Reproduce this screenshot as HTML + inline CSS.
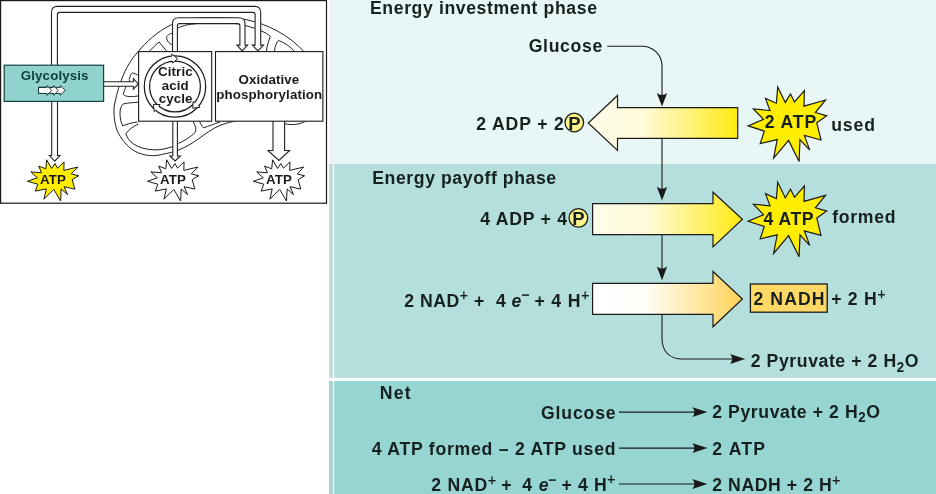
<!DOCTYPE html>
<html><head><meta charset="utf-8"><title>Glycolysis energy phases</title>
<style>
html,body{margin:0;padding:0;background:#fff;}
body{width:936px;height:494px;overflow:hidden;font-family:"Liberation Sans",sans-serif;}
svg{display:block;will-change:transform;}
text{font-family:"Liberation Sans",sans-serif;font-weight:bold;fill:#16201f;}
.t{font-size:19.2px;}
.s{font-size:15px;font-weight:normal;stroke:#16201f;stroke-width:0.35px;}
.sb{font-size:14.5px;}
.m{font-size:13.3px;fill:#1a1a1a;letter-spacing:0.12px;}
.ln{fill:none;stroke:#1a1a1a;stroke-width:1.1;}
.pipe{fill:#fff;stroke:#222;stroke-width:1.1;stroke-linejoin:miter;}
.mito{fill:none;stroke:#222;stroke-width:1;}
</style></head><body>
<svg width="936" height="494" viewBox="0 0 936 494">
<defs>
</defs>

<rect x="330" y="0" width="3" height="164" fill="#eef0f4"/>
<rect x="333" y="0" width="1.2" height="164" fill="#f3fbfb"/>
<rect x="334" y="0" width="602" height="164" fill="#e9f6f6"/>
<rect x="329" y="164" width="4" height="213.8" fill="#c2dcda"/>
<rect x="332.8" y="164" width="1.4" height="213.8" fill="#f2fbfb"/>
<rect x="334.2" y="164" width="601.8" height="213.8" fill="#b4dfdd"/>
<rect x="329" y="381" width="4" height="113" fill="#a6d3d0"/>
<rect x="332.8" y="381" width="1.4" height="113" fill="#eafafa"/>
<rect x="334.2" y="381" width="601.8" height="113" fill="#96d5d1"/>
<rect x="0.6" y="0.6" width="325.9" height="202.6" fill="#fff" stroke="#1a1a1a" stroke-width="1.2"/>
<path class="mito" d="M138.2,51.6 C146,42 158,31 171.4,24.7 C182,20 194,17.8 206,17.6 C222,17.4 236,18 246,19.6 C268,24 290,36 303.3,51 L318,70 C322,85 321,105 310,118 C304,123.5 296,125 290,124.5 C283,124 277,121.5 270,119.5 C258,117 243,118 233,121.5 C228,122.8 224,124 220,125.3 C212,129 205,134 198.4,138.9 C192,143.5 186,147 179,149.9 C174,152 169,153 164.8,153.8 C160,155 156,155.7 151.8,155.7 C147,155.5 143,154.6 138.9,153.1 C133,150.5 129,147.6 126,144 C121.5,139 118.5,134 116.8,129.8 C115,124 114,118 114,113 C113.8,108 114.3,104 115.6,100 C117,93 119,86 121.4,80 C123.5,74 126,69 129.2,63.6 C132,59 135,55 138.2,51.6 Z"/>
<path class="mito" d="M129.2,79.7 C130,76 131,73.5 132.4,72.9 C134,73 136,74 138.5,75.5 M129.8,80 C126,86 124,91 123.3,94.3 C125,97 132,97 138.5,95.9 M149.4,51 L159,41.9 L166.5,51 M171.9,33.3 C168,34.5 166.5,36 166.5,37.6 C167,41 169,43.5 171.9,44.6 M177.8,28 C182,26 187,24.8 191.2,24.2 C215,21 235,22.5 246,25.7 C258,29 266,32.5 270.4,36.3 C268.5,41 267,46 266.4,51 M274.5,51 C275,46 276.5,42.5 278.5,40.4 C285,43 290,46.5 294.2,51"/>
<path class="mito" d="M138.2,102.3 C132,102.6 127,103 123.3,103.9 C121,106 120,109 120,113 C120,118 121,122.5 122.7,125.9 C127,124 132,122.7 137.6,122 M138.2,124 C133,126.5 128.5,130 125.9,133.7 C127,138 130,141.5 133.7,144 C139,147.6 146,149.6 154.4,149.9 C161,149.9 167,148.5 172.5,146.6 M178.4,143.4 C183,141.5 187,139 190.7,136.3 C194,134 196,132 195.9,129.1 C195.8,126.5 194.5,124.5 193.3,122 M199.7,121.5 C200.5,124 202,126.3 203.6,127.8 C209,126 214,124 220,122"/>
<path class="pipe" d="M51.5,66 L51.5,12.5 Q51.5,6.4 57.5,6.4 L254.7,6.4 Q260.7,6.4 260.7,12.4 L260.7,45.1 L263.5,45.1 L257.9,50.9 L252.4,45.1 L255.1,45.1 L255.1,14.5 Q255.1,12.4 253,12.4 L59.5,12.4 Q57.4,12.4 57.4,14.5 L57.4,66"/>
<path class="pipe" d="M172.5,52 L172.5,23.8 Q172.5,17.8 178.5,17.8 L239,17.8 Q245,17.8 245,23.8 L245,45.1 L247.6,45.1 L242.2,50.9 L236.9,45.1 L239.9,45.1 L239.9,25.6 Q239.9,23.6 237.9,23.6 L179.4,23.6 Q177.4,23.6 177.4,25.6 L177.4,52"/>
<path class="pipe" d="M51.7,101 L51.7,155.5 L49.4,155.5 L54.7,161.2 L60,155.5 L57.5,155.5 L57.5,101"/>
<path class="pipe" d="M172.8,121 L172.8,156 L169.8,156 L175.1,160.9 L180.4,156 L177.4,156 L177.4,121"/>
<path class="pipe" d="M273,121 L273,150.5 L268,150.5 L278.9,160.5 L289.6,150.5 L284.6,150.5 L284.6,121"/>
<path class="pipe" d="M103.5,81.7 L133.4,81.7 L133.4,78.7 L138.3,83.9 L133.4,89.1 L133.4,86.2 L103.5,86.2"/>
<rect x="4.2" y="65.2" width="99.4" height="36.2" fill="#8fd2ce" stroke="#14403f" stroke-width="1.2"/>
<rect x="138.6" y="51.6" width="73.1" height="69.6" fill="#fff" stroke="#1a1a1a" stroke-width="1.1"/>
<rect x="215.5" y="51.6" width="107.4" height="69.6" fill="#fff" stroke="#1a1a1a" stroke-width="1.1"/>
<text class="m" x="54.7" y="80.4" text-anchor="middle" style="fill:#103c3b">Glycolysis</text>
<g fill="#fff" stroke="#0f3332" stroke-width="1" stroke-linejoin="miter"><path d="M38.5,87.4 L60.3,87.4 L60.3,85.6 L65.2,90.4 L60.3,95.3 L60.3,93.4 L38.5,93.4 Z"/><path d="M38.5,87.4 L53.7,87.4 L53.7,85.6 L58.2,90.4 L53.7,95.3 L53.7,93.4 L38.5,93.4 Z"/><path d="M38.5,87.4 L47.1,87.4 L47.1,85.6 L51.7,90.4 L47.1,95.3 L47.1,93.4 L38.5,93.4 Z"/></g>
<circle cx="175.0" cy="86.5" r="30.7" class="ln" style="stroke-width:1.2"/>
<circle cx="175.0" cy="86.5" r="25.4" class="ln" style="stroke-width:1.2"/>
<path d="M171.8,54.1 L177.6,58.6 L172.7,63.1" fill="#fff" stroke="#1a1a1a" stroke-width="1" stroke-linejoin="miter"/><path d="M171.8,54.1 L172.0,55.9 M172.7,63.1 L172.5,61.2" class="ln" style="stroke-width:1"/><path d="M200.1,107.3 L192.8,108.2 L193.1,101.5" fill="#fff" stroke="#1a1a1a" stroke-width="1" stroke-linejoin="miter"/><path d="M200.1,107.3 L198.6,106.1 M193.1,101.5 L194.5,102.7" class="ln" style="stroke-width:1"/><path d="M154.3,111.7 L153.4,104.3 L160.1,104.6" fill="#fff" stroke="#1a1a1a" stroke-width="1" stroke-linejoin="miter"/><path d="M154.3,111.7 L155.5,110.2 M160.1,104.6 L158.8,106.1" class="ln" style="stroke-width:1"/>
<text class="m" x="175.4" y="75.7" text-anchor="middle">Citric</text>
<text class="m" x="175.2" y="89.6" text-anchor="middle">acid</text>
<text class="m" x="175.6" y="102.6" text-anchor="middle">cycle</text>
<text class="m" x="268.9" y="83.6" text-anchor="middle">Oxidative</text>
<text class="m" x="269.3" y="98.7" text-anchor="middle">phosphorylation</text>
<polygon points="46.7,159.8 51.6,168.4 55.0,163.6 57.6,168.1 64.1,161.9 63.8,170.4 77.9,167.0 71.3,173.9 78.7,175.8 72.2,179.6 74.9,189.1 64.1,186.7 67.6,194.7 61.2,188.9 60.6,201.0 53.8,189.4 44.0,199.2 46.3,188.9 35.2,191.1 37.9,184.2 27.4,181.3 37.4,177.8 30.8,171.9 41.6,172.8 38.7,166.1 45.8,168.8" fill="#ffee00" stroke="#1a1a1a" stroke-width="1"/>
<text class="m" x="53.0" y="183.5" text-anchor="middle">ATP</text>
<polygon points="166.7,159.8 171.6,168.4 175.0,163.6 177.6,168.1 184.1,161.9 183.8,170.4 197.9,167.0 191.3,173.9 198.7,175.8 192.2,179.6 194.9,189.1 184.1,186.7 187.6,194.7 181.2,188.9 180.6,201.0 173.8,189.4 164.0,199.2 166.3,188.9 155.2,191.1 157.9,184.2 147.4,181.3 157.4,177.8 150.8,171.9 161.6,172.8 158.7,166.1 165.8,168.8" fill="#fff" stroke="#1a1a1a" stroke-width="1"/>
<text class="m" x="173.0" y="183.5" text-anchor="middle">ATP</text>
<polygon points="272.6,159.8 277.5,168.4 280.9,163.6 283.5,168.1 290.0,161.9 289.7,170.4 303.8,167.0 297.2,173.9 304.6,175.8 298.1,179.6 300.8,189.1 290.0,186.7 293.5,194.7 287.1,188.9 286.5,201.0 279.7,189.4 269.9,199.2 272.2,188.9 261.1,191.1 263.8,184.2 253.3,181.3 263.3,177.8 256.7,171.9 267.5,172.8 264.6,166.1 271.7,168.8" fill="#fff" stroke="#1a1a1a" stroke-width="1"/>
<text class="m" x="278.9" y="183.5" text-anchor="middle">ATP</text>
<path class="ln" d="M607.2,46.2 L642,46.2 C653,46.2 662,55 662,66 L662,98 M662,138.4 L662,190 M662,234.7 L662,270 M662,314.4 L662,338 C662,351 669,359 683,359 L735,359"/>
<path d="M662,106.6 L656.8,93.0 Q662,97.1 667.2,93.0 Z" fill="#1a1a1a"/>
<path d="M662,200.4 L656.8,186.8 Q662,190.9 667.2,186.8 Z" fill="#1a1a1a"/>
<path d="M662,280.2 L656.8,266.59999999999997 Q662,270.7 667.2,266.59999999999997 Z" fill="#1a1a1a"/>
<path d="M745.2,359 L730.2,354.1 Q734.2,359 730.2,363.9 Z" fill="#1a1a1a"/>
<linearGradient id="gyl" gradientUnits="userSpaceOnUse" x1="588" x2="738" y1="0" y2="0"><stop offset="0" stop-color="#fffde9"/><stop offset="0.36" stop-color="#fffbdc"/><stop offset="0.68" stop-color="#fff27a"/><stop offset="1" stop-color="#ffeb10"/></linearGradient>
<path d="M737.7,107.6 L617.5,107.6 L617.5,95.5 L588.3,123 L617.5,150.4 L617.5,138.4 L737.7,138.4 Z" fill="url(#gyl)" stroke="#1a1a1a" stroke-width="1.2"/>
<linearGradient id="gyr" gradientUnits="userSpaceOnUse" x1="592" x2="742" y1="0" y2="0"><stop offset="0" stop-color="#fffde9"/><stop offset="0.36" stop-color="#fffbdc"/><stop offset="0.68" stop-color="#fff27a"/><stop offset="1" stop-color="#ffeb10"/></linearGradient>
<path d="M592.6,203.6 L713,203.6 L713,192.2 L742.4,219.3 L713,246.9 L713,234.7 L592.6,234.7 Z" fill="url(#gyr)" stroke="#1a1a1a" stroke-width="1.2"/>
<linearGradient id="gor" gradientUnits="userSpaceOnUse" x1="592" x2="742" y1="0" y2="0"><stop offset="0" stop-color="#ffffff"/><stop offset="0.36" stop-color="#fffdf8"/><stop offset="0.68" stop-color="#ffe9a6"/><stop offset="1" stop-color="#ffd258"/></linearGradient>
<path d="M592.6,283.3 L713,283.3 L713,271.5 L742.4,299 L713,326.8 L713,314.4 L592.6,314.4 Z" fill="url(#gor)" stroke="#1a1a1a" stroke-width="1.2"/>
<polygon points="777.7,87.0 785.3,102.4 790.5,93.9 794.5,102.0 804.4,90.7 804.0,106.1 825.5,100.0 815.4,112.5 826.7,115.8 816.8,122.8 821.0,140.0 804.4,135.5 809.7,150.1 800.0,139.6 799.1,161.4 788.6,140.4 773.6,158.2 777.2,139.6 760.2,143.6 764.3,131.1 748.2,125.9 763.5,119.4 753.4,108.9 770.0,110.5 765.5,98.4 776.4,103.2" fill="#ffee00" stroke="#1a1a1a" stroke-width="1.2"/>
<polygon points="777.7,182.3 785.3,197.7 790.5,189.2 794.5,197.3 804.4,186.0 804.0,201.4 825.5,195.3 815.4,207.8 826.7,211.1 816.8,218.1 821.0,235.3 804.4,230.8 809.7,245.4 800.0,234.9 799.1,256.7 788.6,235.7 773.6,253.5 777.2,234.9 760.2,238.9 764.3,226.4 748.2,221.2 763.5,214.7 753.4,204.2 770.0,205.8 765.5,193.7 776.4,198.5" fill="#ffee00" stroke="#1a1a1a" stroke-width="1.2"/>
<circle cx="574.3" cy="122.5" r="9.3" fill="#fff48c" stroke="#1a1a1a" stroke-width="1.3"/>
<text x="574.3" y="129.5" text-anchor="middle" style="font-size:18.5px">P</text>
<circle cx="578.4" cy="217.9" r="9.3" fill="#fff48c" stroke="#1a1a1a" stroke-width="1.3"/>
<text x="578.4" y="224.9" text-anchor="middle" style="font-size:18.5px">P</text>
<rect x="750.4" y="284" width="76.8" height="28.2" fill="#ffd865" stroke="#1a1a1a" stroke-width="1.3"/>
<path class="ln" d="M619,412.1 L696,412.1"/>
<path d="M707.4,412.1 L692.4,407.20000000000005 Q696.4,412.1 692.4,417.0 Z" fill="#1a1a1a"/>
<path class="ln" d="M619,448.1 L696,448.1"/>
<path d="M707.4,448.1 L692.4,443.20000000000005 Q696.4,448.1 692.4,453.0 Z" fill="#1a1a1a"/>
<path class="ln" d="M619,484.0 L696,484.0"/>
<path d="M707.4,484.0 L692.4,479.1 Q696.4,484.0 692.4,488.9 Z" fill="#1a1a1a"/>
<text class="t" id="inv" transform="translate(370.00,14.0) scale(0.92,1)" style="letter-spacing:0.646px">Energy investment phase</text>
<text class="t" id="glu" transform="translate(528.75,51.9) scale(0.92,1)" style="letter-spacing:0.698px">Glucose</text>
<text class="t" id="adp2" transform="translate(476.25,129.8) scale(0.92,1)" style="letter-spacing:0.911px">2 ADP + 2</text>
<text class="t" id="atp2" transform="translate(764.75,128.4) scale(0.92,1)" style="letter-spacing:0.934px">2 ATP</text>
<text class="t" id="used" transform="translate(831.25,131.1) scale(0.92,1)" style="letter-spacing:0.900px">used</text>
<text class="t" id="pay" transform="translate(372.25,184.1) scale(0.92,1)" style="letter-spacing:0.620px">Energy payoff phase</text>
<text class="t" id="adp4" transform="translate(480.25,224.8) scale(0.92,1)" style="letter-spacing:0.782px">4 ADP + 4</text>
<text class="t" id="atp4" transform="translate(763.50,224.8) scale(0.92,1)" style="letter-spacing:0.529px">4 ATP</text>
<text class="t" id="formed" transform="translate(832.25,223.2) scale(0.92,1)" style="letter-spacing:0.756px">formed</text>
<text class="t" id="n1" transform="translate(404.25,306.9) scale(0.92,1)" style="letter-spacing:0.558px">2 NAD<tspan class="s" dy="-6.6">+</tspan><tspan dy="6.6">​</tspan></text>
<text class="t" id="n2" transform="translate(474.00,306.9) scale(0.92,1)" style="letter-spacing:0.000px">+</text>
<text class="t" id="n3" transform="translate(496.00,306.9) scale(0.92,1)" style="letter-spacing:0.000px">4</text>
<text class="t" id="n4" transform="translate(511.50,306.9) scale(0.92,1)" style="letter-spacing:0.180px"><tspan style="font-style:italic">e</tspan><tspan class="s" dy="-6.6">−</tspan><tspan dy="6.6">​</tspan></text>
<text class="t" id="n5" transform="translate(534.50,306.9) scale(0.92,1)" style="letter-spacing:0.882px">+ 4 H<tspan class="s" dy="-6.6">+</tspan><tspan dy="6.6">​</tspan></text>
<text class="t" id="nadh" transform="translate(753.50,305.4) scale(0.92,1)" style="letter-spacing:1.152px">2 NADH</text>
<text class="t" id="ph" transform="translate(831.25,305.4) scale(0.92,1)" style="letter-spacing:0.756px">+ 2 H<tspan class="s" dy="-6.6">+</tspan><tspan dy="6.6">​</tspan></text>
<text class="t" id="pyr" transform="translate(750.75,367.4) scale(0.92,1)" style="letter-spacing:0.617px">2 Pyruvate + 2 H<tspan class="sb" dy="4.9">2</tspan><tspan dy="-4.9">​</tspan>O</text>
<text class="t" id="net" transform="translate(379.75,399.1) scale(0.92,1)" style="letter-spacing:1.283px">Net</text>
<text class="t" id="glu2" transform="translate(541.00,419.2) scale(0.92,1)" style="letter-spacing:0.900px">Glucose</text>
<text class="t" id="atpf" transform="translate(371.75,455.4) scale(0.92,1)" style="letter-spacing:0.804px">4 ATP formed – 2 ATP used</text>
<text class="t" id="m1" transform="translate(431.25,491.3) scale(0.92,1)" style="letter-spacing:0.837px">2 NAD<tspan class="s" dy="-6.6">+</tspan><tspan dy="6.6">​</tspan></text>
<text class="t" id="m2" transform="translate(501.25,491.3) scale(0.92,1)" style="letter-spacing:0.000px">+</text>
<text class="t" id="m3" transform="translate(522.25,491.3) scale(0.92,1)" style="letter-spacing:0.000px">4</text>
<text class="t" id="m4" transform="translate(538.75,491.3) scale(0.92,1)" style="letter-spacing:-0.360px"><tspan style="font-style:italic">e</tspan><tspan class="s" dy="-6.6">−</tspan><tspan dy="6.6">​</tspan></text>
<text class="t" id="m5" transform="translate(561.50,490.9) scale(0.92,1)" style="letter-spacing:0.675px">+ 4 H<tspan class="s" dy="-6.6">+</tspan><tspan dy="6.6">​</tspan></text>
<text class="t" id="pyr2" transform="translate(712.25,417.5) scale(0.92,1)" style="letter-spacing:0.619px">2 Pyruvate + 2 H<tspan class="sb" dy="4.9">2</tspan><tspan dy="-4.9">​</tspan>O</text>
<text class="t" id="atpn" transform="translate(712.25,455.0) scale(0.92,1)" style="letter-spacing:1.260px">2 ATP</text>
<text class="t" id="nadhn" transform="translate(712.25,491.3) scale(0.92,1)" style="letter-spacing:0.615px">2 NADH + 2 H<tspan class="s" dy="-6.6">+</tspan><tspan dy="6.6">​</tspan></text>
</svg>
</body></html>
